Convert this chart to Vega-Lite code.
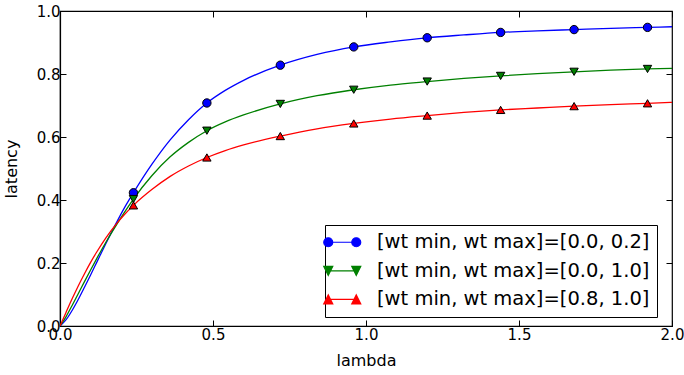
{
  "$schema": "https://vega.github.io/schema/vega-lite/v6.json",
  "width": 612,
  "height": 315,
  "autosize": "none",
  "padding": {"left": 60, "top": 11, "right": 12, "bottom": 49},
  "background": "white",
  "config": {
    "font": "DejaVu Sans",
    "view": {"stroke": "black", "strokeWidth": 1.2},
    "axis": {
      "grid": false,
      "domainColor": "black",
      "tickColor": "black",
      "labelColor": "black",
      "titleColor": "black",
      "labelFont": "DejaVu Sans",
      "titleFont": "DejaVu Sans",
      "labelFontSize": 15,
      "titleFontSize": 16,
      "titleFontWeight": "normal",
      "tickSize": -6,
      "tickWidth": 1,
      "domainWidth": 1.2
    },
    "legend": {
      "orient": "none", "legendX": 265, "legendY": 214,
      "labelFont": "DejaVu Sans", "labelFontSize": 19.5, "labelColor": "black", "labelLimit": 500,
      "symbolSize": 100, "symbolOffset": 0, "labelOffset": 25,
      "strokeColor": "black", "fillColor": "white", "padding": 7.5, "rowPadding": 7.6, "cornerRadius": 0
    }
  },
  "datasets": {
    "curves": [
      {"s": "A", "x": 0, "y": 0}, {"s": "A", "x": 0.02, "y": 0.02}, {"s": "A", "x": 0.04, "y": 0.05}, {"s": "A", "x": 0.06, "y": 0.085}, {"s": "A", "x": 0.08, "y": 0.123}, {"s": "A", "x": 0.1, "y": 0.162}, {"s": "A", "x": 0.12, "y": 0.202}, {"s": "A", "x": 0.15, "y": 0.262}, {"s": "A", "x": 0.185, "y": 0.329}, {"s": "A", "x": 0.21, "y": 0.374}, {"s": "A", "x": 0.24, "y": 0.423}, {"s": "A", "x": 0.3, "y": 0.513}, {"s": "A", "x": 0.36, "y": 0.591}, {"s": "A", "x": 0.42, "y": 0.655}, {"s": "A", "x": 0.48, "y": 0.708}, {"s": "A", "x": 0.54, "y": 0.748}, {"s": "A", "x": 0.6, "y": 0.78}, {"s": "A", "x": 0.72, "y": 0.828}, {"s": "A", "x": 0.84, "y": 0.862}, {"s": "A", "x": 0.96, "y": 0.886}, {"s": "A", "x": 1.08, "y": 0.902}, {"s": "A", "x": 1.2, "y": 0.915}, {"s": "A", "x": 1.32, "y": 0.924}, {"s": "A", "x": 1.44, "y": 0.932}, {"s": "A", "x": 1.56, "y": 0.937}, {"s": "A", "x": 1.68, "y": 0.941}, {"s": "A", "x": 1.8, "y": 0.945}, {"s": "A", "x": 1.92, "y": 0.948}, {"s": "A", "x": 2.0, "y": 0.95},
      {"s": "B", "x": 0, "y": 0}, {"s": "B", "x": 0.02, "y": 0.03}, {"s": "B", "x": 0.04, "y": 0.066}, {"s": "B", "x": 0.06, "y": 0.103}, {"s": "B", "x": 0.08, "y": 0.141}, {"s": "B", "x": 0.1, "y": 0.178}, {"s": "B", "x": 0.12, "y": 0.214}, {"s": "B", "x": 0.15, "y": 0.266}, {"s": "B", "x": 0.185, "y": 0.322}, {"s": "B", "x": 0.21, "y": 0.36}, {"s": "B", "x": 0.24, "y": 0.403}, {"s": "B", "x": 0.3, "y": 0.477}, {"s": "B", "x": 0.36, "y": 0.537}, {"s": "B", "x": 0.42, "y": 0.583}, {"s": "B", "x": 0.48, "y": 0.62}, {"s": "B", "x": 0.54, "y": 0.648}, {"s": "B", "x": 0.6, "y": 0.67}, {"s": "B", "x": 0.72, "y": 0.705}, {"s": "B", "x": 0.84, "y": 0.731}, {"s": "B", "x": 0.96, "y": 0.75}, {"s": "B", "x": 1.08, "y": 0.765}, {"s": "B", "x": 1.2, "y": 0.776}, {"s": "B", "x": 1.32, "y": 0.786}, {"s": "B", "x": 1.44, "y": 0.794}, {"s": "B", "x": 1.56, "y": 0.801}, {"s": "B", "x": 1.68, "y": 0.807}, {"s": "B", "x": 1.8, "y": 0.812}, {"s": "B", "x": 1.92, "y": 0.816}, {"s": "B", "x": 2.0, "y": 0.818},
      {"s": "C", "x": 0, "y": 0}, {"s": "C", "x": 0.02, "y": 0.044}, {"s": "C", "x": 0.04, "y": 0.087}, {"s": "C", "x": 0.06, "y": 0.128}, {"s": "C", "x": 0.08, "y": 0.166}, {"s": "C", "x": 0.1, "y": 0.202}, {"s": "C", "x": 0.12, "y": 0.235}, {"s": "C", "x": 0.15, "y": 0.28}, {"s": "C", "x": 0.185, "y": 0.325}, {"s": "C", "x": 0.21, "y": 0.353}, {"s": "C", "x": 0.24, "y": 0.383}, {"s": "C", "x": 0.3, "y": 0.433}, {"s": "C", "x": 0.36, "y": 0.475}, {"s": "C", "x": 0.42, "y": 0.508}, {"s": "C", "x": 0.48, "y": 0.535}, {"s": "C", "x": 0.54, "y": 0.557}, {"s": "C", "x": 0.6, "y": 0.575}, {"s": "C", "x": 0.72, "y": 0.603}, {"s": "C", "x": 0.84, "y": 0.626}, {"s": "C", "x": 0.96, "y": 0.643}, {"s": "C", "x": 1.08, "y": 0.657}, {"s": "C", "x": 1.2, "y": 0.668}, {"s": "C", "x": 1.32, "y": 0.678}, {"s": "C", "x": 1.44, "y": 0.686}, {"s": "C", "x": 1.56, "y": 0.692}, {"s": "C", "x": 1.68, "y": 0.698}, {"s": "C", "x": 1.8, "y": 0.703}, {"s": "C", "x": 1.92, "y": 0.707}, {"s": "C", "x": 2.0, "y": 0.71}
    ],
    "markers": [
      {"s": "A", "m": "a", "x": 0.24, "y": 0.423}, {"s": "A", "m": "a", "x": 0.48, "y": 0.708}, {"s": "A", "m": "a", "x": 0.72, "y": 0.828}, {"s": "A", "m": "a", "x": 0.96, "y": 0.886}, {"s": "A", "m": "a", "x": 1.2, "y": 0.915}, {"s": "A", "m": "a", "x": 1.44, "y": 0.932}, {"s": "A", "m": "a", "x": 1.68, "y": 0.941}, {"s": "A", "m": "a", "x": 1.92, "y": 0.948},
      {"s": "B", "m": "b", "x": 0.24, "y": 0.403}, {"s": "B", "m": "b", "x": 0.48, "y": 0.62}, {"s": "B", "m": "b", "x": 0.72, "y": 0.705}, {"s": "B", "m": "b", "x": 0.96, "y": 0.75}, {"s": "B", "m": "b", "x": 1.2, "y": 0.776}, {"s": "B", "m": "b", "x": 1.44, "y": 0.794}, {"s": "B", "m": "b", "x": 1.68, "y": 0.807}, {"s": "B", "m": "b", "x": 1.92, "y": 0.816},
      {"s": "C", "m": "c", "x": 0.24, "y": 0.383}, {"s": "C", "m": "c", "x": 0.48, "y": 0.535}, {"s": "C", "m": "c", "x": 0.72, "y": 0.603}, {"s": "C", "m": "c", "x": 0.96, "y": 0.643}, {"s": "C", "m": "c", "x": 1.2, "y": 0.668}, {"s": "C", "m": "c", "x": 1.44, "y": 0.686}, {"s": "C", "m": "c", "x": 1.68, "y": 0.698}, {"s": "C", "m": "c", "x": 1.92, "y": 0.707}
    ]
  },
  "layer": [
    {
      "data": {"name": "curves"},
      "mark": {"type": "line", "interpolate": "monotone", "strokeWidth": 1.3, "clip": true},
      "encoding": {
        "x": {"field": "x", "type": "quantitative", "scale": {"domain": [0, 2], "nice": false}, "axis": {"orient": "bottom", "title": "lambda", "values": [0, 0.5, 1, 1.5, 2], "format": ".1f", "labelPadding": 7, "titlePadding": 10, "labelFlush": false}},
        "y": {"field": "y", "type": "quantitative", "scale": {"domain": [0, 1], "nice": false}, "axis": {"orient": "left", "title": "latency", "values": [0, 0.2, 0.4, 0.6, 0.8, 1.0], "format": ".1f", "labelPadding": 6, "titlePadding": 17, "labelFlush": false}},
        "color": {
          "field": "s", "type": "nominal",
          "scale": {"domain": ["A", "B", "C"], "range": ["#0000ff", "#008000", "#ff0000"]},
          "legend": {
            "title": null,
            "labelExpr": "datum.label == 'A' ? '[wt min, wt max]=[0.0, 0.2]' : datum.label == 'B' ? '[wt min, wt max]=[0.0, 1.0]' : '[wt min, wt max]=[0.8, 1.0]'",
            "encode": {
              "symbols": {
                "update": {
                  "shape": {"signal": "datum.value == 'A' ? 'M-4.3,0M-2.8,0L2.8,0M-3.7,0A0.9,0.9 0 1,0 -1.9,0A0.9,0.9 0 1,0 -3.7,0ZM1.9,0A0.9,0.9 0 1,0 3.7,0A0.9,0.9 0 1,0 1.9,0Z' : datum.value == 'B' ? 'M-4.3,0M-2.8,0L2.8,0M-3.7,-0.9L-1.9,-0.9L-2.8,0.9ZM1.9,-0.9L3.7,-0.9L2.8,0.9Z' : 'M-4.3,0M-2.8,0L2.8,0M-3.7,0.9L-1.9,0.9L-2.8,-0.9ZM1.9,0.9L3.7,0.9L2.8,-0.9Z'"},
                  "fill": {"scale": "color", "field": "value"},
                  "stroke": {"scale": "color", "field": "value"},
                  "strokeWidth": {"value": 1.2},
                  "opacity": {"value": 1},
                  "fillOpacity": {"value": 1}
                }
              }
            }
          }
        }
      }
    },
    {
      "data": {"name": "markers"},
      "mark": {"type": "point", "filled": true, "stroke": "black", "strokeWidth": 1, "opacity": 1, "size": 70},
      "encoding": {
        "x": {"field": "x", "type": "quantitative", "axis": {"orient": "top", "labels": false, "title": null, "values": [0, 0.5, 1, 1.5, 2], "domain": false}},
        "y": {"field": "y", "type": "quantitative", "axis": {"orient": "right", "labels": false, "title": null, "values": [0, 0.2, 0.4, 0.6, 0.8, 1.0], "domain": false}},
        "color": {"field": "s", "type": "nominal", "legend": null},
        "shape": {"field": "m", "type": "nominal", "scale": {"domain": ["a", "b", "c"], "range": ["circle", "triangle-down", "triangle-up"]}, "legend": null}
      }
    }
  ]
}
